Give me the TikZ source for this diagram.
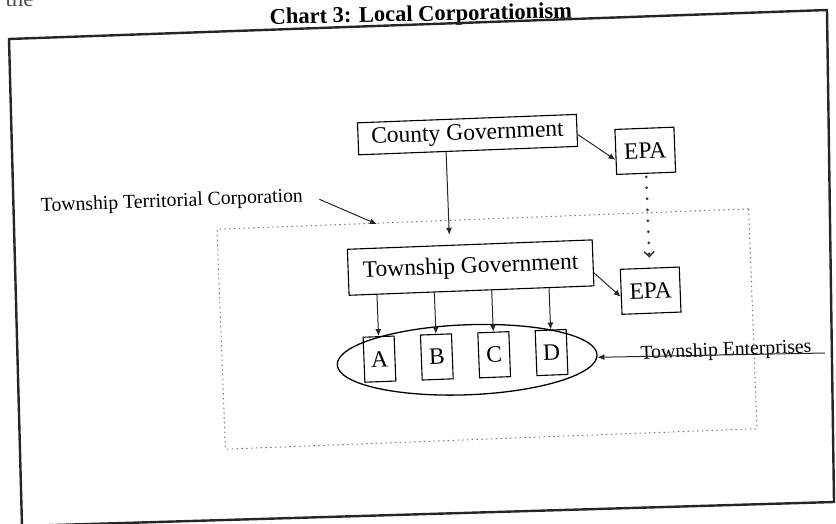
\documentclass[tikz,border=0pt]{standalone}
\usepackage{fontspec}
\setmainfont{Liberation Serif}
\usetikzlibrary{arrows.meta,positioning,calc,shapes.geometric}

\begin{document}
\begin{tikzpicture}[x=1pt, y=-1pt,
    box/.style={draw=black, line width=1.1pt, inner sep=0pt, font=\fontsize{23.5}{28}\selectfont},
    firm/.style={box, minimum width=31pt, minimum height=45pt},
    epa/.style={box, minimum width=59pt, minimum height=45pt},
    arrow/.style={-{Latex[length=7pt, width=6pt]}, line width=1pt, black!85},
    dotarrow/.style={-{Straight Barb[length=5pt, width=10pt, line width=1.5pt]}, line width=3pt, dash pattern=on 0pt off 11pt, line cap=round, black!80},
    zone/.style={draw=black!55, line width=1pt, dash pattern=on 1.4pt off 3.4pt},
    note/.style={font=\fontsize{19.7}{24}\selectfont},
]
\useasboundingbox (0,0) rectangle (836,524);

% === Page remnant and title ===
\node[anchor=base west, font=\fontsize{23}{28}\selectfont, black!70] (prev) at (2,7) {the};
\node[anchor=base, rotate=1.2, font=\bfseries\fontsize{22.5}{27}\selectfont] (title) at (421,21) {Chart 3: Local Corporationism};

% === Outer frame ===
\draw[line width=2.4pt, black!85] (9,39) -- (827,10) -- (834,502) -- (22,526) -- cycle;

\begin{scope}[rotate around={2.2:(487,329)}, transform shape]
    % Township territory
    \node[zone, minimum width=532pt, minimum height=220pt] (zone) at (487,329) {};

    % Governments and EPAs
    \node[box, minimum width=219pt, minimum height=32pt] (county) at (475,134) {County Government};
    \node[epa] (epaC) at (652,157) {EPA};
    \node[box, minimum width=245pt, minimum height=46pt] (township) at (473,267) {Township Government};
    \node[epa] (epaT) at (652,297) {EPA};

    % Enterprises
    \node[draw, ellipse, line width=1.3pt, minimum width=260pt, minimum height=70pt] (firms) at (466,359) {};
    \foreach \name [count=\i] in {A,B,C,D}
        \node[firm] (firm\name) at (321+57.4*\i,355) {\name};

    % Arrows
    \coordinate (cg) at ($(county.south west)!0.4!(county.south east)$);
    \draw[arrow, shorten >=10pt] (cg) -- ($(township.north west)!(cg)!(township.north east)$);
    \draw[arrow] ([yshift=-4pt]county.east) -- ([yshift=-8pt]epaC.west);
    \draw[dotarrow, shorten <=3pt, shorten >=10pt] (epaC.south) -- (epaT.north);
    \draw[arrow] ([yshift=-10pt]township.east) -- ([yshift=-5pt]epaT.west);
    \foreach \name in {A,B,C,D}
        \draw[arrow] ($(township.south west)!(firm\name.north)!(township.south east)$) -- (firm\name.north);

    % Side labels
    \node[note] (ttc) at (177,190) {Township Territorial Corporation};
    \coordinate (ttcTip) at (381,220);
    \draw[arrow] ([xshift=13pt, yshift=-3pt]ttc.east) -- (ttcTip);

    \node[note, anchor=base] (tent) at (725,365) {Township Enterprises};
    \coordinate (tentEnd) at (824,366);
    \draw[arrow] (tentEnd) -- (firms);
\end{scope}

\end{tikzpicture}
\end{document}
